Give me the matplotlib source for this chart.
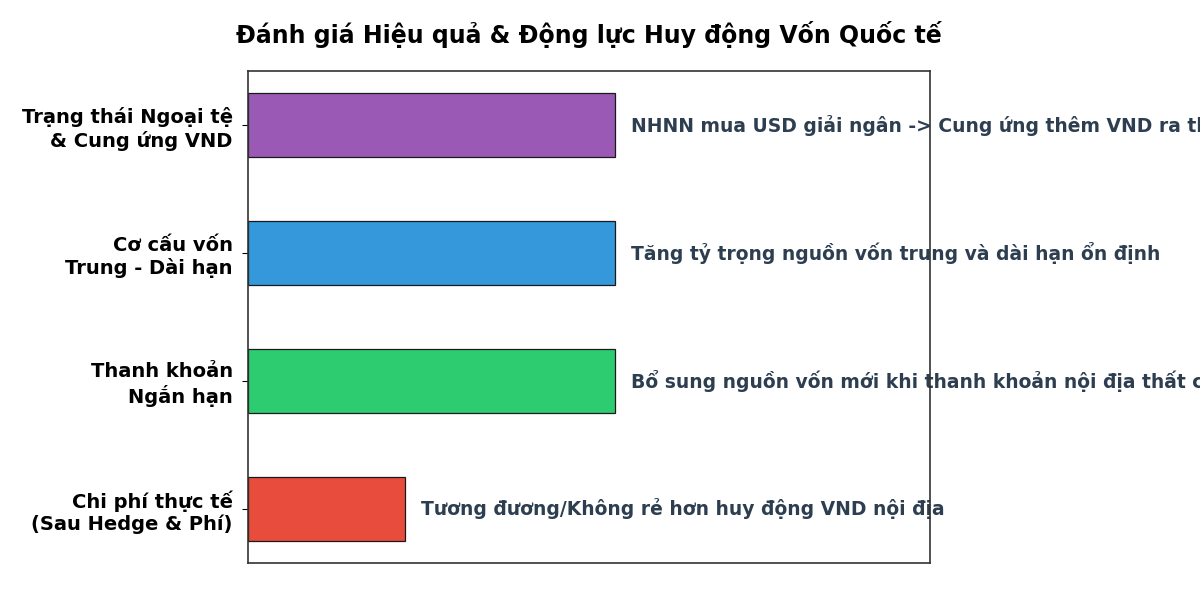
import matplotlib
matplotlib.use("Agg")
import matplotlib.pyplot as plt

categories = ["Chi phí thực tế\n(Sau Hedge & Phí)", "Thanh khoản\nNgắn hạn",
              "Cơ cấu vốn\nTrung - Dài hạn", "Trạng thái Ngoại tệ\n& Cung ứng VND"]
values = [1.5, 3.5, 3.5, 3.5]
colors = ["#e74c3c", "#2ecc71", "#3498db", "#9b59b6"]
notes = ["Tương đương/Không rẻ hơn huy động VND nội địa",
         "Bổ sung nguồn vốn mới khi thanh khoản nội địa thất chặt",
         "Tăng tỷ trọng nguồn vốn trung và dài hạn ổn định",
         "NHNN mua USD giải ngân -> Cung ứng thêm VND ra thị trường"]
title = "Đánh giá Hiệu quả & Động lực Huy động Vốn Quốc tế"

fig = plt.figure(figsize=(12, 5.92), dpi=100)
ax = fig.add_axes([0.2067, 0.049, 0.5683, 0.831])
ypos = list(range(len(categories)))
ax.barh(ypos, values, height=0.5, color=colors, edgecolor="#1a1a1a", linewidth=0.9)
for y, v, t in zip(ypos, values, notes):
    ax.text(v + 0.15, y, t, va="center", ha="left", fontsize=13.5, fontweight="bold",
            color="#2c3e50", clip_on=False, zorder=1)
ax.set_yticks(ypos)
ax.set_yticklabels(categories, fontsize=14, fontweight="bold")
ax.tick_params(axis="y", pad=7, length=4)
ax.set_xticks([])
ax.set_xlim(0, 6.5)
for s in ax.spines.values():
    s.set_color("#333333")
    s.set_linewidth(1.2)
    s.set_zorder(5)
ax.set_title(title, fontsize=17, fontweight="bold", pad=20)
fig.savefig("out.png", dpi=100)
